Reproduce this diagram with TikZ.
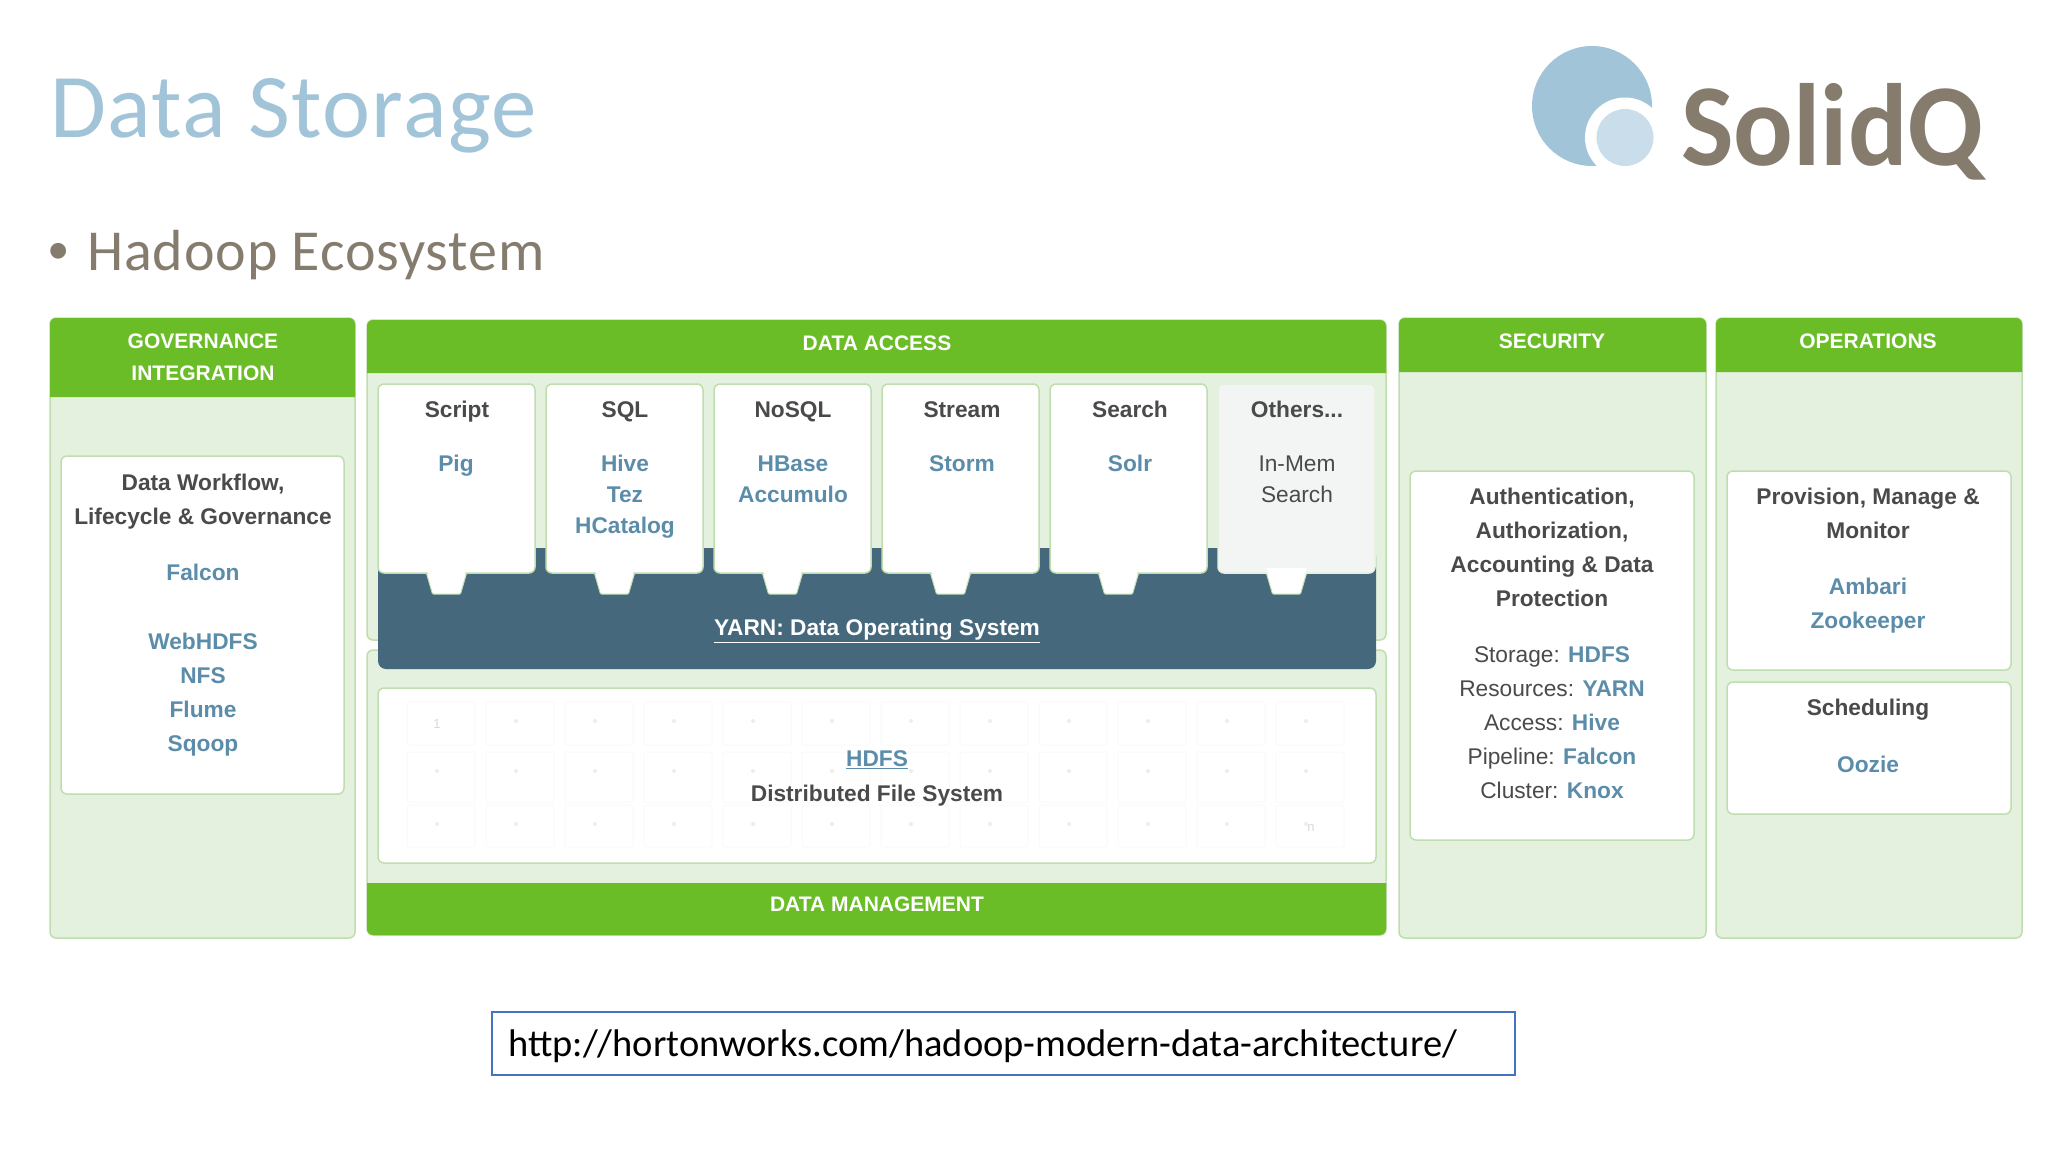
\documentclass[tikz,border=0pt]{standalone}
\usepackage{fontspec}
\setmainfont{Liberation Sans}
\newfontfamily\slidefont[LetterSpace=1.6]{Carlito}
\newfontfamily\urlfont{Carlito}
\newfontfamily\logofont{Carlito}
\definecolor{headgreen}{HTML}{6ABD27}
\definecolor{palegreen}{HTML}{E4F1DE}
\definecolor{edgegreen}{HTML}{BFDDAE}
\definecolor{toolblue}{HTML}{5B8DAA}
\definecolor{darktxt}{HTML}{4A4A4A}
\definecolor{yarnblue}{HTML}{46687D}
\definecolor{titleblue}{HTML}{A2C4D9}
\definecolor{logoblue}{HTML}{A2C4D9}
\definecolor{logopale}{HTML}{C9DDEA}
\definecolor{slidegrey}{HTML}{857C6E}
\definecolor{urlblue}{HTML}{4472C4}
\definecolor{othersgrey}{HTML}{F3F5F4}
\tikzset{
	panel/.style={fill=palegreen,draw=edgegreen,line width=1.5pt,rounded corners=6pt},
	head/.style={fill=headgreen},
	inner/.style={fill=white,draw=edgegreen,line width=1.5pt,rounded corners=6pt},
	notch/.style={fill=white,draw=edgegreen,line width=1pt,rounded corners=1pt},
	headtxt/.style={inner sep=0pt,align=center,text=white,font=\fontsize{21}{32}\selectfont\bfseries},
	titletxt/.style={inner sep=0pt,align=center,text=darktxt,font=\fontsize{22.7}{34}\selectfont\bfseries},
	tooltxt/.style={inner sep=0pt,align=center,text=toolblue,font=\fontsize{22.7}{34}\selectfont\bfseries},
	plaintxt/.style={inner sep=0pt,align=center,text=darktxt,font=\fontsize{22.7}{34}\selectfont},
}
\begin{document}
\begin{tikzpicture}[x=1pt,y=-1pt]
	\useasboundingbox (0,0) rectangle (2048,1152);

	\node[anchor=base west,inner sep=0pt,text=titleblue,font=\slidefont\fontsize{91}{91}\selectfont] (title) at (50,137) {Data Storage};
	\node[anchor=base west,inner sep=0pt,text=slidegrey,font=\fontsize{58}{58}\selectfont] (bullet) at (48,270) {•};
	\node[anchor=base west,inner sep=0pt,text=slidegrey,font=\slidefont\fontsize{58}{58}\selectfont] (sub) at (87,270) {Hadoop Ecosystem};

	% logo
	\fill[logoblue] (1592,106) circle (60);
	\fill[white] (1625,137.5) circle (40);
	\fill[logopale] (1625,137.5) circle (28.5);
	\node[anchor=base west,inner sep=0pt,text=slidegrey,xscale=.95,font=\logofont\fontsize{117}{117}\selectfont\bfseries] (logo) at (1681,165) {SolidQ};

	% panels with their green bars
	\foreach \xa/\xb/\ya/\yb in {50/355/318/397,1399/1706/318/372,1716/2022/318/372}{
		\draw[panel] (\xa,\ya) rectangle (\xb,938);
		\fill[head] (\xa,\yb) [rounded corners=6pt] -- (\xa,\ya) -- (\xb,\ya) [sharp corners] -- (\xb,\yb) -- cycle;
	}
	\draw[panel] (367,320) rectangle (1386,640);
	\fill[head] (367,373) [rounded corners=6pt] -- (367,320) -- (1386,320) [sharp corners] -- (1386,373) -- cycle;
	\draw[panel] (367,650) rectangle (1386,935);
	\fill[head] (367,883) [sharp corners] -- (1386,883) [rounded corners=6pt] -- (1386,935) -- (367,935) [sharp corners] -- cycle;

	\node[headtxt] (govhead) at (203,357) {GOVERNANCE\\INTEGRATION};
	\node[headtxt] (accesshead) at (877,343) {DATA ACCESS};
	\node[headtxt] (mgmthead) at (877,904) {DATA MANAGEMENT};
	\node[headtxt] (sechead) at (1552,341) {SECURITY};
	\node[headtxt] (opshead) at (1868,341) {OPERATIONS};

	% yarn under the boxes
	\fill[yarnblue,rounded corners=8pt] (378,548) rectangle (1376,669);
	\node[headtxt,font=\fontsize{22.7}{34}\selectfont\bfseries] (yarn) at (877,631) {\underline{YARN: Data Operating System}};

	\foreach \i in {0,...,5}{
		\pgfmathsetmacro{\bx}{378+168*\i}
		\pgfmathsetmacro{\cx}{\bx+68.5}
		\draw[notch] (\cx-21,570) -- (\cx-14,594) -- (\cx+14,594) -- (\cx+21,570) -- cycle;
		\ifnum\i=5
			\draw[inner,fill=othersgrey,draw=palegreen] (\bx,384) rectangle (\bx+157,573);
		\else
			\draw[inner] (\bx,384) rectangle (\bx+157,573);
		\fi
		\fill[white] (\cx-20,568) -- (\cx-13.5,592.5) -- (\cx+13.5,592.5) -- (\cx+20,568) -- cycle;
	}

	\node[titletxt,anchor=base] (script) at (457,417) {Script};
	\node[titletxt,anchor=base] (sql) at (625,417) {SQL};
	\node[titletxt,anchor=base] (nosql) at (793,417) {NoSQL};
	\node[titletxt,anchor=base] (stream) at (962,417) {Stream};
	\node[titletxt,anchor=base] (search) at (1130,417) {Search};
	\node[titletxt,anchor=base] (others) at (1297,417) {Others...};
	\node[tooltxt,anchor=north] (pig) at (456,455) {Pig};
	\node[tooltxt,anchor=north,font=\fontsize{22.7}{31}\selectfont\bfseries] (hive) at (625,455) {Hive\\Tez\\HCatalog};
	\node[tooltxt,anchor=north,font=\fontsize{22.7}{31}\selectfont\bfseries] (hbase) at (793,456) {HBase\\Accumulo};
	\node[tooltxt,anchor=north] (storm) at (962,455) {Storm};
	\node[tooltxt,anchor=north] (solr) at (1130,455) {Solr};
	\node[plaintxt,anchor=north,font=\fontsize{22.7}{31}\selectfont] (inmem) at (1297,456) {In-Mem\\Search};

	% hdfs and its faint blocks
	\draw[inner] (378,688) rectangle (1376,863);
	\foreach \i in {0,...,11}{
		\foreach \ya/\yb in {702/745,752/802,805/847}{
			\draw[black!2,line width=1pt,rounded corners=2pt] (407+79*\i,\ya) rectangle (475+79*\i,\yb);
			\ifnum\i>0
				\fill[black!7] (437+79*\i,\ya+19) circle (2);
			\fi
		}
	}
	\foreach \ya in {752,805}{
		\fill[black!7] (437,\ya+19) circle (2);
	}
	\node[inner sep=0pt,text=black!15,font=\fontsize{13}{13}\selectfont] (first) at (437,724) {1};
	\node[inner sep=0pt,text=black!15,font=\fontsize{13}{13}\selectfont] (last) at (1311,828) {n};
	\node[tooltxt] (hdfs) at (877,760) {\underline{HDFS}};
	\node[titletxt] (dfs) at (877,796) {Distributed File System};

	% governance
	\draw[inner] (61,456) rectangle (344,794);
	\node[titletxt] (govtitle) at (203,502) {Data Workflow,\\Lifecycle \& Governance};
	\node[tooltxt] (falcon) at (203,572) {Falcon};
	\node[tooltxt] (govtools) at (203,695) {WebHDFS\\NFS\\Flume\\Sqoop};

	% security
	\draw[inner] (1410,471) rectangle (1694,840);
	\node[titletxt] (sectitle) at (1552,547) {Authentication,\\Authorization,\\Accounting \& Data\\Protection};
	\node[plaintxt] (sectools) at (1552,723) {Storage: \textcolor{toolblue}{\bfseries HDFS}\\
		Resources: \textcolor{toolblue}{\bfseries YARN}\\
		Access: \textcolor{toolblue}{\bfseries Hive}\\
		Pipeline: \textcolor{toolblue}{\bfseries Falcon}\\
		Cluster: \textcolor{toolblue}{\bfseries Knox}};

	% operations
	\draw[inner] (1727,471) rectangle (2011,670);
	\draw[inner] (1727,682) rectangle (2011,814);
	\node[titletxt] (opstitle) at (1868,513) {Provision, Manage \&\\Monitor};
	\node[tooltxt] (opstools) at (1868,606) {Ambari\\Zookeeper};
	\node[titletxt] (sched) at (1868,710) {Scheduling};
	\node[tooltxt] (oozie) at (1868,764) {Oozie};

	% url
	\draw[urlblue,line width=2pt,fill=white] (492,1012) rectangle (1515,1075);
	\node[anchor=west,inner sep=0pt,text=black,font=\urlfont\fontsize{38.5}{38.5}\selectfont] (url) at (508,1046) {http://hortonworks.com/hadoop-modern-data-architecture/};
\end{tikzpicture}
\end{document}
